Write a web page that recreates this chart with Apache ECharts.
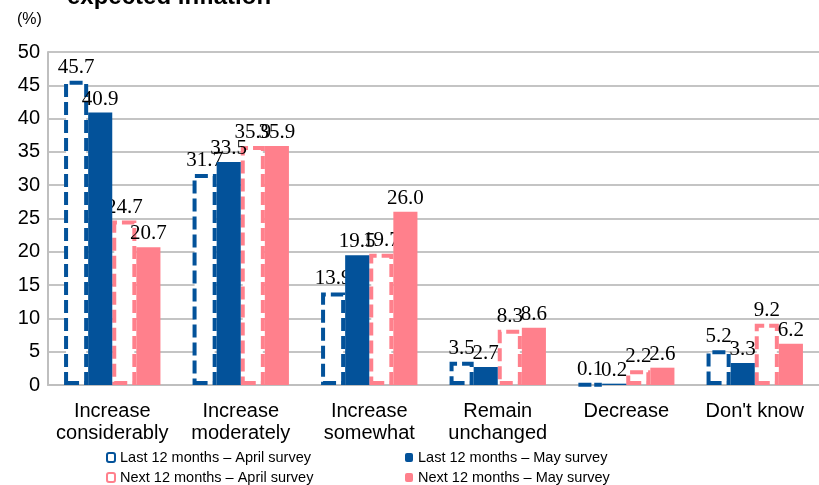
<!DOCTYPE html>
<html><head><meta charset="utf-8">
<script src="https://cdn.jsdelivr.net/npm/echarts@6/dist/echarts.min.js"></script>
<style>html,body{margin:0;padding:0;background:#fff}#c{width:819px;height:485px}</style>
</head><body><div id="c"></div>
<script>
const categories = ["Increase\nconsiderably","Increase\nmoderately","Increase\nsomewhat","Remain\nunchanged","Decrease","Don't know"];
const lastApril = [45.7, 31.7, 13.9, 3.5, 0.1, 5.2];
const lastMay   = [40.9, 33.5, 19.5, 2.7, 0.2, 3.3];
const nextApril = [24.7, 35.9, 19.7, 8.3, 2.2, 9.2];
const nextMay   = [20.7, 35.9, 26.0, 8.6, 2.6, 6.2];
const yTicks = [0,5,10,15,20,25,30,35,40,45,50];
const seriesNames = ["Last 12 months – April survey","Last 12 months – May survey","Next 12 months – April survey","Next 12 months – May survey"];

const BLUE = '#03529A', PINK = '#FF808C';
const SANS = '"Liberation Sans",Arial,sans-serif';
const labelCfg = {show:true, position:'top', distance:3, color:'#000', fontFamily:'"Liberation Serif","Times New Roman",serif', fontSize:21, formatter:p=>p.value.toFixed(1)};
function dashed(name, data, col){
  return {name, type:'bar', data, barGap:'0%', barCategoryGap:'25%',
    itemStyle:{color:'#fff', borderColor:col, borderWidth:4, borderType:[13,5]},
    label:labelCfg, z:2};
}
function solid(name, data, col){
  return {name, type:'bar', data, itemStyle:{color:col}, label:labelCfg, z:3};
}
const chart = echarts.init(document.getElementById('c'));
const lf = {fontFamily:SANS, fontSize:14.5, color:'#000'};
function lg(name, left, top){
  return {data:[name], left, top, itemWidth:8, itemHeight:9, itemGap:0, textStyle:lf, padding:0, selectedMode:false};
}
chart.setOption({
  animation:false,
  title:{text:'expected inflation', left:62, top:-20, textStyle:{fontFamily:SANS, fontWeight:'bold', fontSize:24, color:'#000'}},
  graphic:[{type:'text', left:17, top:12, style:{text:'(%)', fontFamily:SANS, fontSize:16, fill:'#000'}}],
  grid:{left:48, right:0, top:52, bottom:100, containLabel:false},
  legend:[lg(seriesNames[0],106,450), lg(seriesNames[1],405,450), lg(seriesNames[2],106,470), lg(seriesNames[3],405,470)],
  xAxis:{type:'category', data:categories,
    axisLine:{lineStyle:{color:'#bfbfbf', width:2}}, axisTick:{show:false},
    axisLabel:{color:'#000', fontFamily:SANS, fontSize:20, lineHeight:22, margin:15, interval:0}},
  yAxis:{type:'value', min:yTicks[0], max:yTicks[yTicks.length-1], interval:yTicks[1]-yTicks[0],
    axisLine:{show:true, lineStyle:{color:'#bfbfbf', width:2}}, axisTick:{show:false},
    splitLine:{lineStyle:{color:'#c4c4c4', width:2}},
    axisLabel:{color:'#000', fontFamily:SANS, fontSize:20, margin:8}},
  series:[dashed(seriesNames[0], lastApril, BLUE), solid(seriesNames[1], lastMay, BLUE),
          dashed(seriesNames[2], nextApril, PINK), solid(seriesNames[3], nextMay, PINK)]
});
</script></body></html>
